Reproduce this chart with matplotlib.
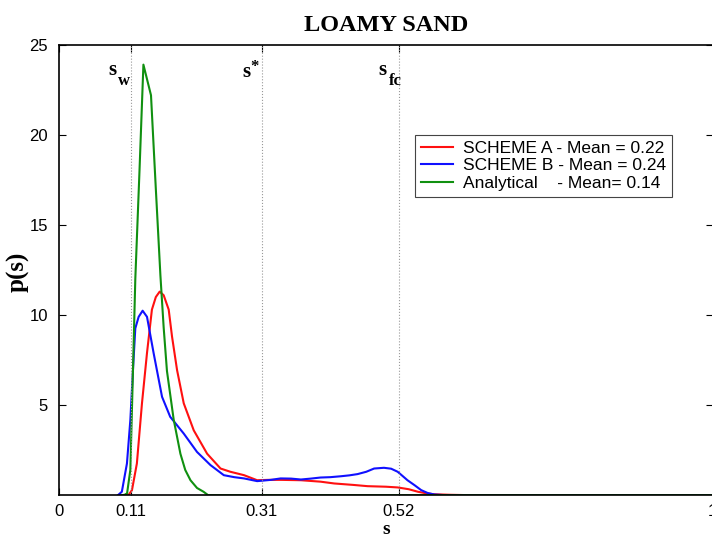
import matplotlib
matplotlib.use("Agg")
import matplotlib.pyplot as plt

# Analytical pdf
s_an = [0.095, 0.100, 0.104, 0.109, 0.113, 0.1166, 0.123, 0.129, 0.1406, 0.148,
        0.155, 0.160, 0.165, 0.1753, 0.1856, 0.193, 0.201, 0.211, 0.221, 0.228,
        0.30, 1.0]
p_an = [0, 0.02, 0.1, 1.4, 6.9, 12.0, 18.0, 23.9, 22.2, 17.0,
        12.2, 9.3, 6.9, 4.2, 2.3, 1.4, 0.83, 0.4, 0.19, 0.0,
        0, 0]

# Scheme A
s_a = [0.100, 0.106, 0.1115, 0.119, 0.1268, 0.1345, 0.142, 0.148, 0.1539, 0.160,
       0.1677, 0.1728, 0.1805, 0.1907, 0.206, 0.2265, 0.247, 0.262, 0.283, 0.303,
       0.32, 0.34, 0.37, 0.40, 0.421, 0.45, 0.472, 0.50, 0.518, 0.535,
       0.549, 0.562, 0.574, 0.60, 0.63, 1.0]
p_a = [0, 0, 0.28, 1.76, 5.1, 7.9, 10.3, 11.0, 11.3, 11.1,
       10.3, 8.8, 6.94, 5.1, 3.6, 2.3, 1.48, 1.3, 1.11, 0.83,
       0.85, 0.85, 0.83, 0.75, 0.65, 0.57, 0.5, 0.47, 0.43, 0.33,
       0.19, 0.1, 0.05, 0.02, 0, 0]

# Scheme B
s_b = [0.090, 0.096, 0.1038, 0.109, 0.113, 0.1166, 0.1217, 0.1278, 0.1345, 0.1447,
       0.1575, 0.170, 0.1907, 0.211, 0.2316, 0.252, 0.268, 0.283, 0.303, 0.324,
       0.339, 0.355, 0.370, 0.385, 0.400, 0.415, 0.431, 0.444, 0.4566, 0.47,
       0.482, 0.497, 0.508, 0.518, 0.526, 0.533, 0.544, 0.554, 0.564, 0.574,
       0.59, 1.0]
p_b = [0, 0.19, 1.76, 4.17, 6.94, 9.26, 9.9, 10.24, 9.9, 7.87,
       5.46, 4.35, 3.42, 2.4, 1.67, 1.11, 1.0, 0.93, 0.78, 0.85,
       0.93, 0.92, 0.87, 0.92, 0.98, 1.0, 1.05, 1.1, 1.17, 1.3,
       1.48, 1.52, 1.47, 1.3, 1.05, 0.83, 0.55, 0.28, 0.12, 0.04,
       0, 0]

marks = [0.11, 0.31, 0.52]
mark_main = ['s', 's', 's']
mark_sub = ['w', '*', 'fc']
xticks = [0, 0.11, 0.31, 0.52, 1]
xticklabels = ['0', '0.11', '0.31', '0.52', '1']
yticks = [5, 10, 15, 20, 25]

# where the s / subscript labels sit (left edges, in data units)
main_x = [0.075, 0.281, 0.488]
sub_x = [0.0905, 0.293, 0.5046]
main_y = [23.6, 23.5, 23.6]
sub_y = [23.0, 23.75, 23.0]

plt.rcParams['font.family'] = ['Liberation Sans', 'DejaVu Sans']
serif = 'Liberation Serif'

fig = plt.figure(figsize=(7.12, 5.4), dpi=100)
ax = fig.add_axes([0.083, 0.083, 0.918, 0.834])

ax.plot(s_a, p_a, color='#ff1010', lw=1.5, label='SCHEME A - Mean = 0.22')
ax.plot(s_b, p_b, color='#1010ff', lw=1.5, label='SCHEME B - Mean = 0.24')
ax.plot(s_an, p_an, color='#109010', lw=1.5, label='Analytical    - Mean= 0.14')

for m in marks:
    ax.axvline(m, color='#999999', lw=0.8, ls=':')
for i in range(len(marks)):
    ax.text(main_x[i], main_y[i], mark_main[i], ha='left', va='center',
            fontsize=15, fontweight='bold', fontfamily=serif)
    ax.text(sub_x[i], sub_y[i], mark_sub[i], ha='left', va='center',
            fontsize=12, fontweight='bold', fontfamily=serif)

ax.set_xlim(0, 1)
ax.set_ylim(0, 25)
ax.set_xticks(xticks, labels=xticklabels)
ax.set_yticks(yticks)
ax.tick_params(direction='in', top=True, right=True, labelsize=12, length=5)
ax.tick_params(axis='x', pad=6)
ax.tick_params(axis='y', pad=8)
for sp in ax.spines.values():
    sp.set_linewidth(1.2)

ax.set_title('LOAMY SAND', fontfamily=serif, fontweight='bold',
             fontsize=17.5, pad=10)
ax.set_xlabel('s', fontfamily=serif, fontweight='bold', fontsize=14)
ax.xaxis.set_label_coords(0.5, -0.058)
ax.set_ylabel('p(s)', fontfamily=serif, fontweight='bold', fontsize=18)
ax.yaxis.set_label_coords(-0.045, 0.496)

leg = ax.legend(loc='upper left', bbox_to_anchor=(0.545, 0.80), fontsize=12.5,
                fancybox=False, framealpha=1, edgecolor='#444444',
                handlelength=1.8, handletextpad=0.6, borderpad=0.35,
                labelspacing=0.12, borderaxespad=0)
leg.get_frame().set_linewidth(0.8)

fig.savefig('out.png', dpi=100)
